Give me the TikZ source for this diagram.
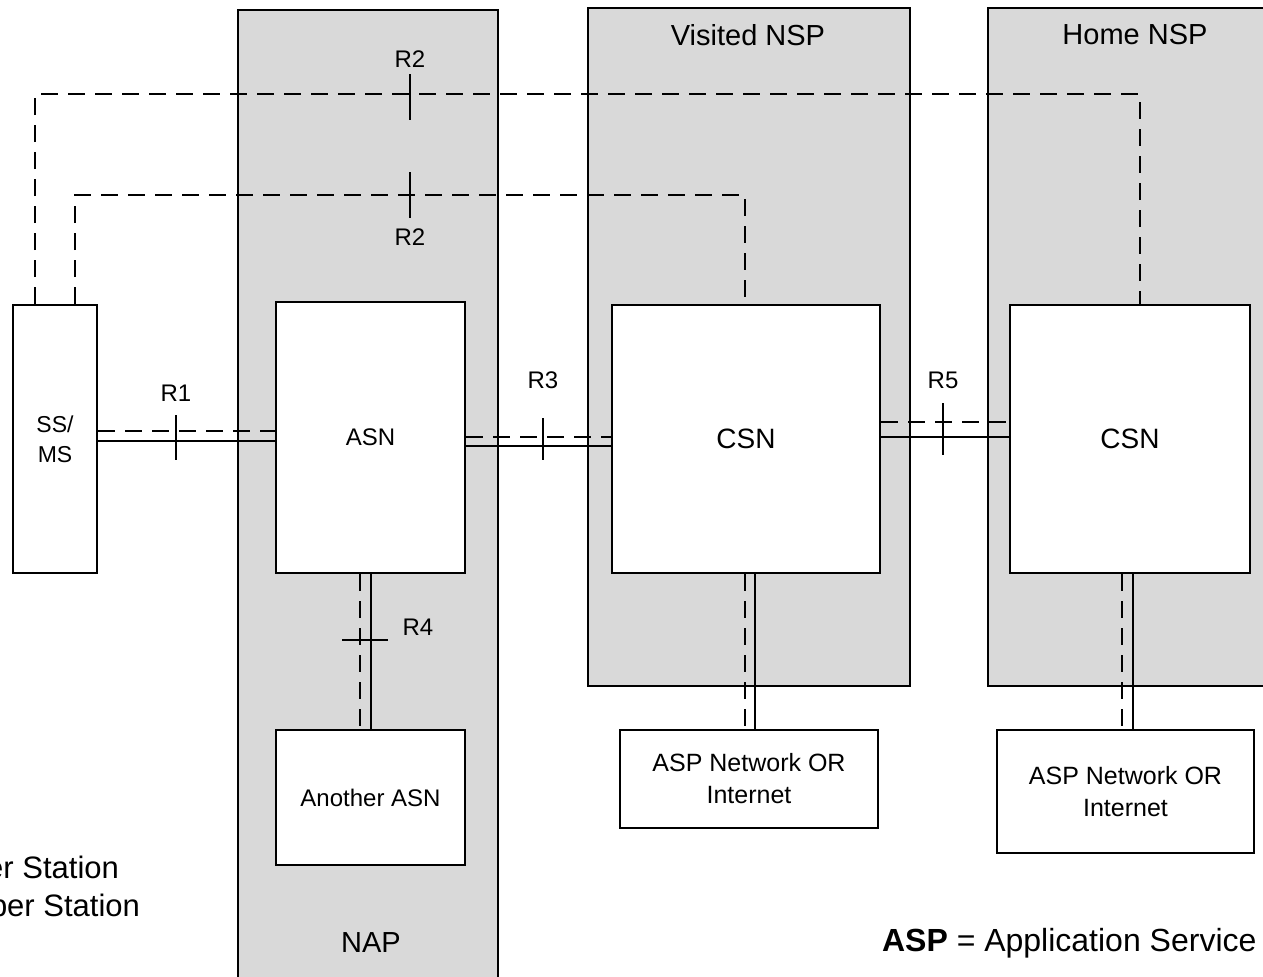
\documentclass[tikz,border=0pt]{standalone}
\usepackage{fontspec}
\setmainfont{Liberation Sans}
\definecolor{zonegray}{RGB}{217,217,217}
\begin{document}
\begin{tikzpicture}[x=0.5pt, y=-0.5pt,
    zone/.style={draw, fill=zonegray, line width=1pt},
    box/.style={draw, fill=white, line width=1pt, inner sep=0pt, align=center, font=\fontsize{12}{15}\selectfont},
    link/.style={line width=1pt},
    ctrl/.style={line width=1pt, dash pattern=on 8.5pt off 5pt},
    tick/.style={line width=1pt},
    lbl/.style={font=\fontsize{12}{14}\selectfont},
    big/.style={font=\fontsize{14.5}{17}\selectfont}]
    \useasboundingbox (0,0) rectangle (1263,976);
    % zones
    \draw[zone] (238,10) rectangle (498,990);
    \draw[zone] (588,8) rectangle (910,686);
    \draw[zone] (988,8) rectangle (1275,686);
    \node[big] (nap) at (371,943) {NAP};
    \node[big] (vnsp) at (748,35) {Visited NSP};
    \node[big] (hnsp) at (1135,35) {Home NSP};
    % boxes
    \node[box, minimum width=42pt, minimum height=134pt, font=\fontsize{11.5}{15}\selectfont] (ss) at (55,439) {SS/\\MS};
    \node[box, minimum width=94.5pt, minimum height=135.5pt] (asn) at (370.5,437.5) {ASN};
    \node[box, minimum width=94.5pt, minimum height=67.5pt] (another) at (370.5,797.5) {Another ASN};
    \node[box, minimum width=134pt, minimum height=134pt, font=\fontsize{14}{17}\selectfont] (csnv) at (746,439) {CSN};
    \node[box, minimum width=120pt, minimum height=134pt, font=\fontsize{14}{17}\selectfont] (csnh) at (1130,439) {CSN};
    \node[box, minimum width=129pt, minimum height=49pt, font=\fontsize{12.5}{16}\selectfont] (aspv) at (749,779) {ASP Network OR\\Internet};
    \node[box, minimum width=128.5pt, minimum height=61.5pt, font=\fontsize{12.5}{16}\selectfont] (asph) at (1125.5,791.5) {ASP Network OR\\Internet};
    % R1
    \draw[link] (ss.east |- 0,441) -- (asn.west |- 0,441);
    \draw[ctrl] (ss.east |- 0,431) -- (asn.west |- 0,431);
    % R3
    \draw[link] (asn.east |- 0,446) -- (csnv.west |- 0,446);
    \draw[ctrl] (asn.east |- 0,437) -- (csnv.west |- 0,437);
    % R5
    \draw[link] (csnv.east |- 0,437) -- (csnh.west |- 0,437);
    \draw[ctrl] (csnv.east |- 0,422) -- (csnh.west |- 0,422);
    % R4
    \draw[link] (asn.south -| 371,0) -- (another.north -| 371,0);
    \draw[ctrl] (asn.south -| 360,0) -- (another.north -| 360,0);
    % CSN to ASP
    \draw[link] (csnv.south -| 755,0) -- (aspv.north -| 755,0);
    \draw[ctrl] (csnv.south -| 745,0) -- (aspv.north -| 745,0);
    \draw[link] (csnh.south -| 1133,0) -- (asph.north -| 1133,0);
    \draw[ctrl] (csnh.south -| 1122,0) -- (asph.north -| 1122,0);
    % R2
    \draw[ctrl] (ss.north -| 35,0) -- (35,94) -- (1140,94) -- (csnh.north -| 1140,0);
    \draw[ctrl] (ss.north -| 75,0) -- (75,195) -- (745,195) -- (csnv.north -| 745,0);
    % ticks
    \coordinate (t1) at (176,437);
    \coordinate (t3) at (543,439);
    \coordinate (t5) at (943,429);
    \coordinate (t4) at (365,640);
    \coordinate (t2a) at (410,97);
    \coordinate (t2b) at (410,195);
    \draw[tick] (t1) +(0,-22) -- +(0,23);
    \draw[tick] (t3) +(0,-21) -- +(0,21);
    \draw[tick] (t5) +(0,-26) -- +(0,26);
    \draw[tick] (t4) +(-23,0) -- +(23,0);
    \draw[tick] (t2a) +(0,-23) -- +(0,23);
    \draw[tick] (t2b) +(0,-23) -- +(0,23);
    \node[lbl] (lr1) at (176,393) {R1};
    \node[lbl] (lr3) at (543,380) {R3};
    \node[lbl] (lr5) at (943,380) {R5};
    \node[lbl] (lr4) at (418,627) {R4};
    \node[lbl] (lr2a) at (410,59) {R2};
    \node[lbl] (lr2b) at (410,237) {R2};
    % legends
    \node[big, anchor=east, font=\fontsize{15.5}{18}\selectfont] (leg1) at (126,867) {er Station};
    \node[big, anchor=east, font=\fontsize{15.5}{18}\selectfont] (leg2) at (147,905) {ber Station};
    \node[big, anchor=west, font=\fontsize{16}{18}\selectfont] (leg3) at (875,943) {\textbf{ASP} = Application Service};
\end{tikzpicture}
\end{document}
